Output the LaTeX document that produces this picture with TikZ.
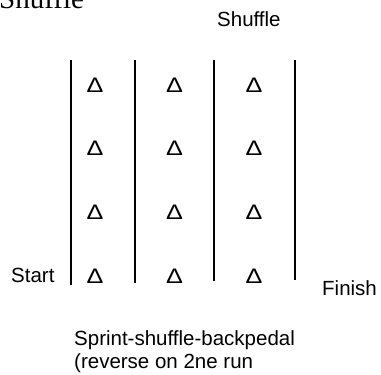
\documentclass[tikz,border=0pt]{standalone}
\usepackage{fontspec}
\setmainfont{Liberation Sans}
\newfontfamily\timesfont{Liberation Serif}
\usetikzlibrary{positioning}

\begin{document}
\begin{tikzpicture}[x=1pt, y=-1pt, every node/.style={inner sep=0pt, font=\fontsize{20.5}{23}\selectfont}]
	\clip (0,0) rectangle (381,375);
	\node (head) [anchor=base west, font=\fontsize{29}{31}\timesfont] at (-1,8) {Shuffle};
	\node (shuffle) [anchor=base west] at (217,26) {Shuffle};
	\node (start) [anchor=base west] at (11,282) {Start};
	\node (finish) [anchor=base west] at (322,295) {Finish};
	\node (note) [anchor=north west, align=left] at (74,330) {Sprint-shuffle-backpedal\\(reverse on 2ne run};

	\begin{scope}[node distance=63.7pt and 79.5pt, on grid, every node/.append style={font=\fontsize{21}{22}\selectfont, xscale=1.2}]
	\node (c11) at (95,85) {Δ};
	\node (c12) [below=of c11] {Δ};
	\node (c13) [below=of c12] {Δ};
	\node (c14) [below=of c13] {Δ};
	\node (c21) [right=of c11] {Δ};
	\node (c22) [below=of c21] {Δ};
	\node (c23) [below=of c22] {Δ};
	\node (c24) [below=of c23] {Δ};
	\node (c31) [right=of c21] {Δ};
	\node (c32) [below=of c31] {Δ};
	\node (c33) [below=of c32] {Δ};
	\node (c34) [below=of c33] {Δ};
	\end{scope}

	\coordinate (l1t) at (71,60);
	\coordinate (l1b) at (71,285);
	\coordinate (l2t) at (135,60);
	\coordinate (l2b) at (135,283);
	\coordinate (l3t) at (214,60);
	\coordinate (l3b) at (214,281);
	\coordinate (l4t) at (295,60);
	\coordinate (l4b) at (295,280);

	\draw [line width=1.8pt] (l1t) -- (l1b);
	\draw [line width=1.8pt] (l2t) -- (l2b);
	\draw [line width=1.8pt] (l3t) -- (l3b);
	\draw [line width=1.8pt] (l4t) -- (l4b);
\end{tikzpicture}
\end{document}
